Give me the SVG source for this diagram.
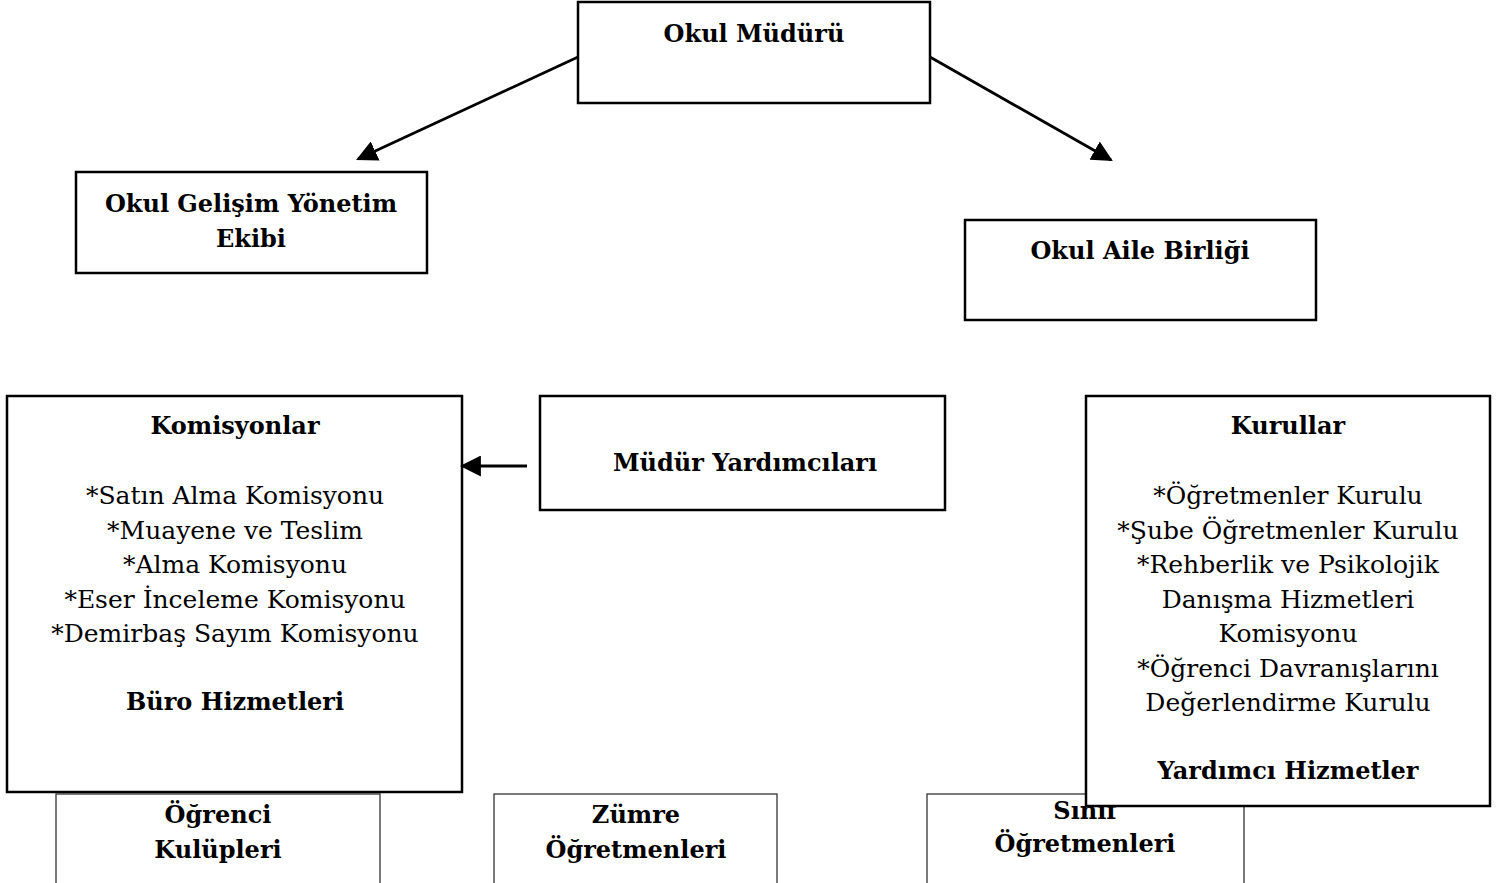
<svg xmlns="http://www.w3.org/2000/svg" width="1511" height="883" viewBox="0 0 1511 883">
<defs>
<style>
.box{fill:#fff;stroke:#000;stroke-width:2.5}
.thin{fill:#fff;stroke:#333;stroke-width:1.3}
.b{font-family:"DejaVu Serif","Liberation Serif",serif;font-weight:bold;font-size:24px;text-anchor:middle;fill:#000}
.r{font-family:"DejaVu Serif","Liberation Serif",serif;font-size:25px;text-anchor:middle;fill:#000}
.conn{stroke:#000;stroke-width:2.8;fill:none}
</style>
<marker id="ah" viewBox="0 0 10 10" refX="9" refY="5" markerWidth="21" markerHeight="21" markerUnits="userSpaceOnUse" orient="auto">
<path d="M0,0 L10,5 L0,10 z" fill="#000"/>
</marker>
</defs>
<g id="ogrenci-kulupleri">
<rect class="thin" x="56" y="794" width="324" height="100"/>
<text class="b" x="218" y="823">Öğrenci</text>
<text class="b" x="218" y="858">Kulüpleri</text>
</g>
<g id="zumre">
<rect class="thin" x="494" y="794" width="283" height="100"/>
<text class="b" x="636" y="823">Zümre</text>
<text class="b" x="636" y="858">Öğretmenleri</text>
</g>
<g id="sinif">
<rect class="thin" x="927" y="794" width="317" height="100"/>
<text class="b" x="1085" y="819">Sınıf</text>
<text class="b" x="1085" y="852">Öğretmenleri</text>
</g>
<g id="okul-muduru">
<rect class="box" x="578" y="2" width="352" height="101"/>
<text class="b" x="754" y="42">Okul Müdürü</text>
</g>
<g id="okul-gelisim">
<rect class="box" x="76" y="172" width="351" height="101"/>
<text class="b" x="251" y="212">Okul Gelişim Yönetim</text>
<text class="b" x="251" y="247">Ekibi</text>
</g>
<g id="okul-aile">
<rect class="box" x="965" y="220" width="351" height="100"/>
<text class="b" x="1140" y="259">Okul Aile Birliği</text>
</g>
<g id="komisyonlar">
<rect class="box" x="7" y="396" width="455" height="396"/>
<text class="b" x="235" y="434">Komisyonlar</text>
<text class="r" x="235" y="504">*Satın Alma Komisyonu</text>
<text class="r" x="235" y="539">*Muayene ve Teslim</text>
<text class="r" x="235" y="573">*Alma Komisyonu</text>
<text class="r" x="235" y="608">*Eser İnceleme Komisyonu</text>
<text class="r" x="235" y="642">*Demirbaş Sayım Komisyonu</text>
<text class="b" x="235" y="710">Büro Hizmetleri</text>
</g>
<g id="mudur-yardimcilari">
<rect class="box" x="540" y="396" width="405" height="114"/>
<text class="b" x="745" y="471">Müdür Yardımcıları</text>
</g>
<g id="kurullar">
<rect class="box" x="1086" y="396" width="404" height="410"/>
<text class="b" x="1288" y="434">Kurullar</text>
<text class="r" x="1288" y="504">*Öğretmenler Kurulu</text>
<text class="r" x="1288" y="539">*Şube Öğretmenler Kurulu</text>
<text class="r" x="1288" y="573">*Rehberlik ve Psikolojik</text>
<text class="r" x="1288" y="608">Danışma Hizmetleri</text>
<text class="r" x="1288" y="642">Komisyonu</text>
<text class="r" x="1288" y="677">*Öğrenci Davranışlarını</text>
<text class="r" x="1288" y="711">Değerlendirme Kurulu</text>
<text class="b" x="1288" y="779">Yardımcı Hizmetler</text>
</g>
<g id="connectors">
<line class="conn" x1="578" y1="57" x2="358" y2="159" marker-end="url(#ah)"/>
<line class="conn" x1="930" y1="57" x2="1111" y2="160" marker-end="url(#ah)"/>
<line class="conn" x1="527" y1="466" x2="462" y2="466" marker-end="url(#ah)"/>
</g>
</svg>
